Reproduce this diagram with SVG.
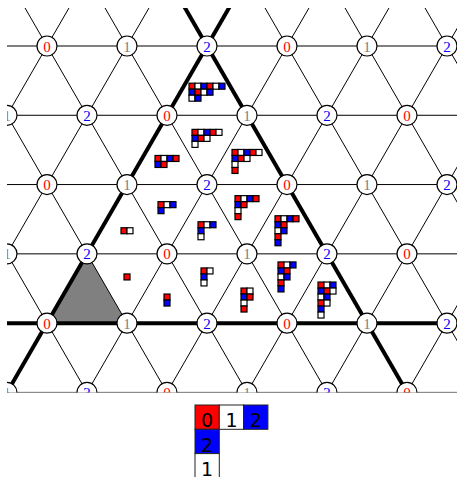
<svg xmlns="http://www.w3.org/2000/svg" xmlns:xlink="http://www.w3.org/1999/xlink" width="457" height="477" viewBox="0 0 457 477">
<style>
.thin{stroke:#000;stroke-width:1;fill:none}
.thick{stroke:#000;stroke-width:4;fill:none}
.nd circle{fill:#fff;stroke:#000;stroke-width:1.2}
.nd text{font-family:"Liberation Serif","Times New Roman",serif;font-size:15px;text-anchor:middle}
.c0{fill:#ff0000}.c1{fill:#808080}.c2{fill:#0000ff}
.cell{stroke:#000;stroke-width:1.2}
.cr{fill:#ff0000}.cw{fill:#fff}.cb{fill:#0000ff}
.lg rect{stroke:#222;stroke-width:1}
.lg text{font-family:"DejaVu Sans",sans-serif;font-size:19px;text-anchor:middle;fill:#000}
</style>
<defs>
<clipPath id="clip"><rect x="7" y="8" width="460" height="384.41"/></clipPath>
<rect id="R" class="cell cr" width="6" height="6"/>
<rect id="W" class="cell cw" width="6" height="6"/>
<rect id="B" class="cell cb" width="6" height="6"/>
</defs>
<rect width="457" height="477" fill="#fff"/>
<g clip-path="url(#clip)">
<polygon id="fundamental-alcove" points="87,253.85 47,323.13 127,323.13" fill="#808080"/>
<g id="connectors">
<g class="thin">
<line x1="0" y1="46" x2="470" y2="46"/>
<line x1="0" y1="115.28" x2="470" y2="115.28"/>
<line x1="0" y1="184.56" x2="470" y2="184.56"/>
<line x1="0" y1="253.85" x2="470" y2="253.85"/>
<line x1="0" y1="323.13" x2="470" y2="323.13"/>
<line x1="0" y1="392.41" x2="470" y2="392.41"/>
<line x1="-233" y1="-23.28" x2="47" y2="461.69"/>
<line x1="-153" y1="-23.28" x2="127" y2="461.69"/>
<line x1="-73" y1="-23.28" x2="207" y2="461.69"/>
<line x1="7" y1="-23.28" x2="287" y2="461.69"/>
<line x1="87" y1="-23.28" x2="367" y2="461.69"/>
<line x1="167" y1="-23.28" x2="447" y2="461.69"/>
<line x1="247" y1="-23.28" x2="527" y2="461.69"/>
<line x1="327" y1="-23.28" x2="607" y2="461.69"/>
<line x1="407" y1="-23.28" x2="687" y2="461.69"/>
<line x1="487" y1="-23.28" x2="767" y2="461.69"/>
<line x1="7" y1="-23.28" x2="-273" y2="461.69"/>
<line x1="87" y1="-23.28" x2="-193" y2="461.69"/>
<line x1="167" y1="-23.28" x2="-113" y2="461.69"/>
<line x1="247" y1="-23.28" x2="-33" y2="461.69"/>
<line x1="327" y1="-23.28" x2="47" y2="461.69"/>
<line x1="407" y1="-23.28" x2="127" y2="461.69"/>
<line x1="487" y1="-23.28" x2="207" y2="461.69"/>
<line x1="567" y1="-23.28" x2="287" y2="461.69"/>
<line x1="647" y1="-23.28" x2="367" y2="461.69"/>
<line x1="727" y1="-23.28" x2="447" y2="461.69"/>
</g>
<g class="thick">
<line x1="247" y1="-23.28" x2="-33" y2="461.69"/>
<line x1="167" y1="-23.28" x2="447" y2="461.69"/>
<line x1="0" y1="323.13" x2="470" y2="323.13"/>
</g>
</g>
<g id="nodes">
<g id="n0_0" class="nd" transform="translate(47,46)"><circle r="10"/><text y="5.5" class="c0">0</text></g>
<g id="n0_1" class="nd" transform="translate(127,46)"><circle r="10"/><text y="5.5" class="c1">1</text></g>
<g id="n0_2" class="nd" transform="translate(207,46)"><circle r="10"/><text y="5.5" class="c2">2</text></g>
<g id="n0_3" class="nd" transform="translate(287,46)"><circle r="10"/><text y="5.5" class="c0">0</text></g>
<g id="n0_4" class="nd" transform="translate(367,46)"><circle r="10"/><text y="5.5" class="c1">1</text></g>
<g id="n0_5" class="nd" transform="translate(447,46)"><circle r="10"/><text y="5.5" class="c2">2</text></g>
<g id="n1_0" class="nd" transform="translate(7,115.28)"><circle r="10"/><text y="5.5" class="c1">1</text></g>
<g id="n1_1" class="nd" transform="translate(87,115.28)"><circle r="10"/><text y="5.5" class="c2">2</text></g>
<g id="n1_2" class="nd" transform="translate(167,115.28)"><circle r="10"/><text y="5.5" class="c0">0</text></g>
<g id="n1_3" class="nd" transform="translate(247,115.28)"><circle r="10"/><text y="5.5" class="c1">1</text></g>
<g id="n1_4" class="nd" transform="translate(327,115.28)"><circle r="10"/><text y="5.5" class="c2">2</text></g>
<g id="n1_5" class="nd" transform="translate(407,115.28)"><circle r="10"/><text y="5.5" class="c0">0</text></g>
<g id="n2_0" class="nd" transform="translate(47,184.56)"><circle r="10"/><text y="5.5" class="c0">0</text></g>
<g id="n2_1" class="nd" transform="translate(127,184.56)"><circle r="10"/><text y="5.5" class="c1">1</text></g>
<g id="n2_2" class="nd" transform="translate(207,184.56)"><circle r="10"/><text y="5.5" class="c2">2</text></g>
<g id="n2_3" class="nd" transform="translate(287,184.56)"><circle r="10"/><text y="5.5" class="c0">0</text></g>
<g id="n2_4" class="nd" transform="translate(367,184.56)"><circle r="10"/><text y="5.5" class="c1">1</text></g>
<g id="n2_5" class="nd" transform="translate(447,184.56)"><circle r="10"/><text y="5.5" class="c2">2</text></g>
<g id="n3_0" class="nd" transform="translate(7,253.85)"><circle r="10"/><text y="5.5" class="c1">1</text></g>
<g id="n3_1" class="nd" transform="translate(87,253.85)"><circle r="10"/><text y="5.5" class="c2">2</text></g>
<g id="n3_2" class="nd" transform="translate(167,253.85)"><circle r="10"/><text y="5.5" class="c0">0</text></g>
<g id="n3_3" class="nd" transform="translate(247,253.85)"><circle r="10"/><text y="5.5" class="c1">1</text></g>
<g id="n3_4" class="nd" transform="translate(327,253.85)"><circle r="10"/><text y="5.5" class="c2">2</text></g>
<g id="n3_5" class="nd" transform="translate(407,253.85)"><circle r="10"/><text y="5.5" class="c0">0</text></g>
<g id="n4_0" class="nd" transform="translate(47,323.13)"><circle r="10"/><text y="5.5" class="c0">0</text></g>
<g id="n4_1" class="nd" transform="translate(127,323.13)"><circle r="10"/><text y="5.5" class="c1">1</text></g>
<g id="n4_2" class="nd" transform="translate(207,323.13)"><circle r="10"/><text y="5.5" class="c2">2</text></g>
<g id="n4_3" class="nd" transform="translate(287,323.13)"><circle r="10"/><text y="5.5" class="c0">0</text></g>
<g id="n4_4" class="nd" transform="translate(367,323.13)"><circle r="10"/><text y="5.5" class="c1">1</text></g>
<g id="n4_5" class="nd" transform="translate(447,323.13)"><circle r="10"/><text y="5.5" class="c2">2</text></g>
<g id="n5_0" class="nd" transform="translate(7,392.41)"><circle r="10"/><text y="5.5" class="c1">1</text></g>
<g id="n5_1" class="nd" transform="translate(87,392.41)"><circle r="10"/><text y="5.5" class="c2">2</text></g>
<g id="n5_2" class="nd" transform="translate(167,392.41)"><circle r="10"/><text y="5.5" class="c0">0</text></g>
<g id="n5_3" class="nd" transform="translate(247,392.41)"><circle r="10"/><text y="5.5" class="c1">1</text></g>
<g id="n5_4" class="nd" transform="translate(327,392.41)"><circle r="10"/><text y="5.5" class="c2">2</text></g>
<g id="n5_5" class="nd" transform="translate(407,392.41)"><circle r="10"/><text y="5.5" class="c0">0</text></g>
</g>
</g>
<g id="partitions">
<g id="p642">
<use href="#R" x="189" y="83.19"/><use href="#W" x="195" y="83.19"/><use href="#B" x="201" y="83.19"/><use href="#R" x="207" y="83.19"/><use href="#W" x="213" y="83.19"/><use href="#B" x="219" y="83.19"/>
<use href="#B" x="189" y="89.19"/><use href="#R" x="195" y="89.19"/><use href="#W" x="201" y="89.19"/><use href="#B" x="207" y="89.19"/>
<use href="#W" x="189" y="95.19"/><use href="#B" x="195" y="95.19"/>
</g>
<g id="p531">
<use href="#R" x="192" y="129.37"/><use href="#W" x="198" y="129.37"/><use href="#B" x="204" y="129.37"/><use href="#R" x="210" y="129.37"/><use href="#W" x="216" y="129.37"/>
<use href="#B" x="192" y="135.37"/><use href="#R" x="198" y="135.37"/><use href="#W" x="204" y="135.37"/>
<use href="#W" x="192" y="141.37"/>
</g>
<g id="p42">
<use href="#R" x="155" y="155.47"/><use href="#W" x="161" y="155.47"/><use href="#B" x="167" y="155.47"/><use href="#R" x="173" y="155.47"/>
<use href="#B" x="155" y="161.47"/><use href="#R" x="161" y="161.47"/>
</g>
<g id="p5311">
<use href="#R" x="232" y="149.47"/><use href="#W" x="238" y="149.47"/><use href="#B" x="244" y="149.47"/><use href="#R" x="250" y="149.47"/><use href="#W" x="256" y="149.47"/>
<use href="#B" x="232" y="155.47"/><use href="#R" x="238" y="155.47"/><use href="#W" x="244" y="155.47"/>
<use href="#W" x="232" y="161.47"/>
<use href="#R" x="232" y="167.47"/>
</g>
<g id="p31">
<use href="#R" x="158" y="201.65"/><use href="#W" x="164" y="201.65"/><use href="#B" x="170" y="201.65"/>
<use href="#B" x="158" y="207.65"/>
</g>
<g id="p311">
<use href="#R" x="198" y="221.75"/><use href="#W" x="204" y="221.75"/><use href="#B" x="210" y="221.75"/>
<use href="#B" x="198" y="227.75"/>
<use href="#W" x="198" y="233.75"/>
</g>
<g id="p4211">
<use href="#R" x="235" y="195.65"/><use href="#W" x="241" y="195.65"/><use href="#B" x="247" y="195.65"/><use href="#R" x="253" y="195.65"/>
<use href="#B" x="235" y="201.65"/><use href="#R" x="241" y="201.65"/>
<use href="#W" x="235" y="207.65"/>
<use href="#R" x="235" y="213.65"/>
</g>
<g id="p42211">
<use href="#R" x="275" y="215.75"/><use href="#W" x="281" y="215.75"/><use href="#B" x="287" y="215.75"/><use href="#R" x="293" y="215.75"/>
<use href="#B" x="275" y="221.75"/><use href="#R" x="281" y="221.75"/>
<use href="#W" x="275" y="227.75"/><use href="#B" x="281" y="227.75"/>
<use href="#R" x="275" y="233.75"/>
<use href="#B" x="275" y="239.75"/>
</g>
<g id="p2">
<use href="#R" x="121" y="227.75"/><use href="#W" x="127" y="227.75"/>
</g>
<g id="p1">
<use href="#R" x="124" y="273.94"/>
</g>
<g id="p11">
<use href="#R" x="164" y="294.04"/>
<use href="#B" x="164" y="300.04"/>
</g>
<g id="p211">
<use href="#R" x="201" y="267.94"/><use href="#W" x="207" y="267.94"/>
<use href="#B" x="201" y="273.94"/>
<use href="#W" x="201" y="279.94"/>
</g>
<g id="p2211">
<use href="#R" x="241" y="288.04"/><use href="#W" x="247" y="288.04"/>
<use href="#B" x="241" y="294.04"/><use href="#R" x="247" y="294.04"/>
<use href="#W" x="241" y="300.04"/>
<use href="#R" x="241" y="306.04"/>
</g>
<g id="p32211">
<use href="#R" x="278" y="261.94"/><use href="#W" x="284" y="261.94"/><use href="#B" x="290" y="261.94"/>
<use href="#B" x="278" y="267.94"/><use href="#R" x="284" y="267.94"/>
<use href="#W" x="278" y="273.94"/><use href="#B" x="284" y="273.94"/>
<use href="#R" x="278" y="279.94"/>
<use href="#B" x="278" y="285.94"/>
</g>
<g id="p332211">
<use href="#R" x="318" y="282.04"/><use href="#W" x="324" y="282.04"/><use href="#B" x="330" y="282.04"/>
<use href="#B" x="318" y="288.04"/><use href="#R" x="324" y="288.04"/><use href="#W" x="330" y="288.04"/>
<use href="#W" x="318" y="294.04"/><use href="#B" x="324" y="294.04"/>
<use href="#R" x="318" y="300.04"/><use href="#W" x="324" y="300.04"/>
<use href="#B" x="318" y="306.04"/>
<use href="#W" x="318" y="312.04"/>
</g>
</g>
<g id="legend" class="lg">
<rect x="195" y="405" width="24.3" height="24.3" fill="#ff0000"/>
<rect x="219.3" y="405" width="24.3" height="24.3" fill="#fff"/>
<rect x="243.6" y="405" width="24.3" height="24.3" fill="#0000ff"/>
<rect x="195" y="429.3" width="24.3" height="24.3" fill="#0000ff"/>
<rect x="195" y="453.6" width="24.3" height="24.3" fill="#fff"/>
<text x="207.15" y="427.3">0</text>
<text x="231.45" y="427.3">1</text>
<text x="255.75" y="427.3">2</text>
<text x="207.15" y="451.6">2</text>
<text x="207.15" y="475.9">1</text>
</g>
</svg>
